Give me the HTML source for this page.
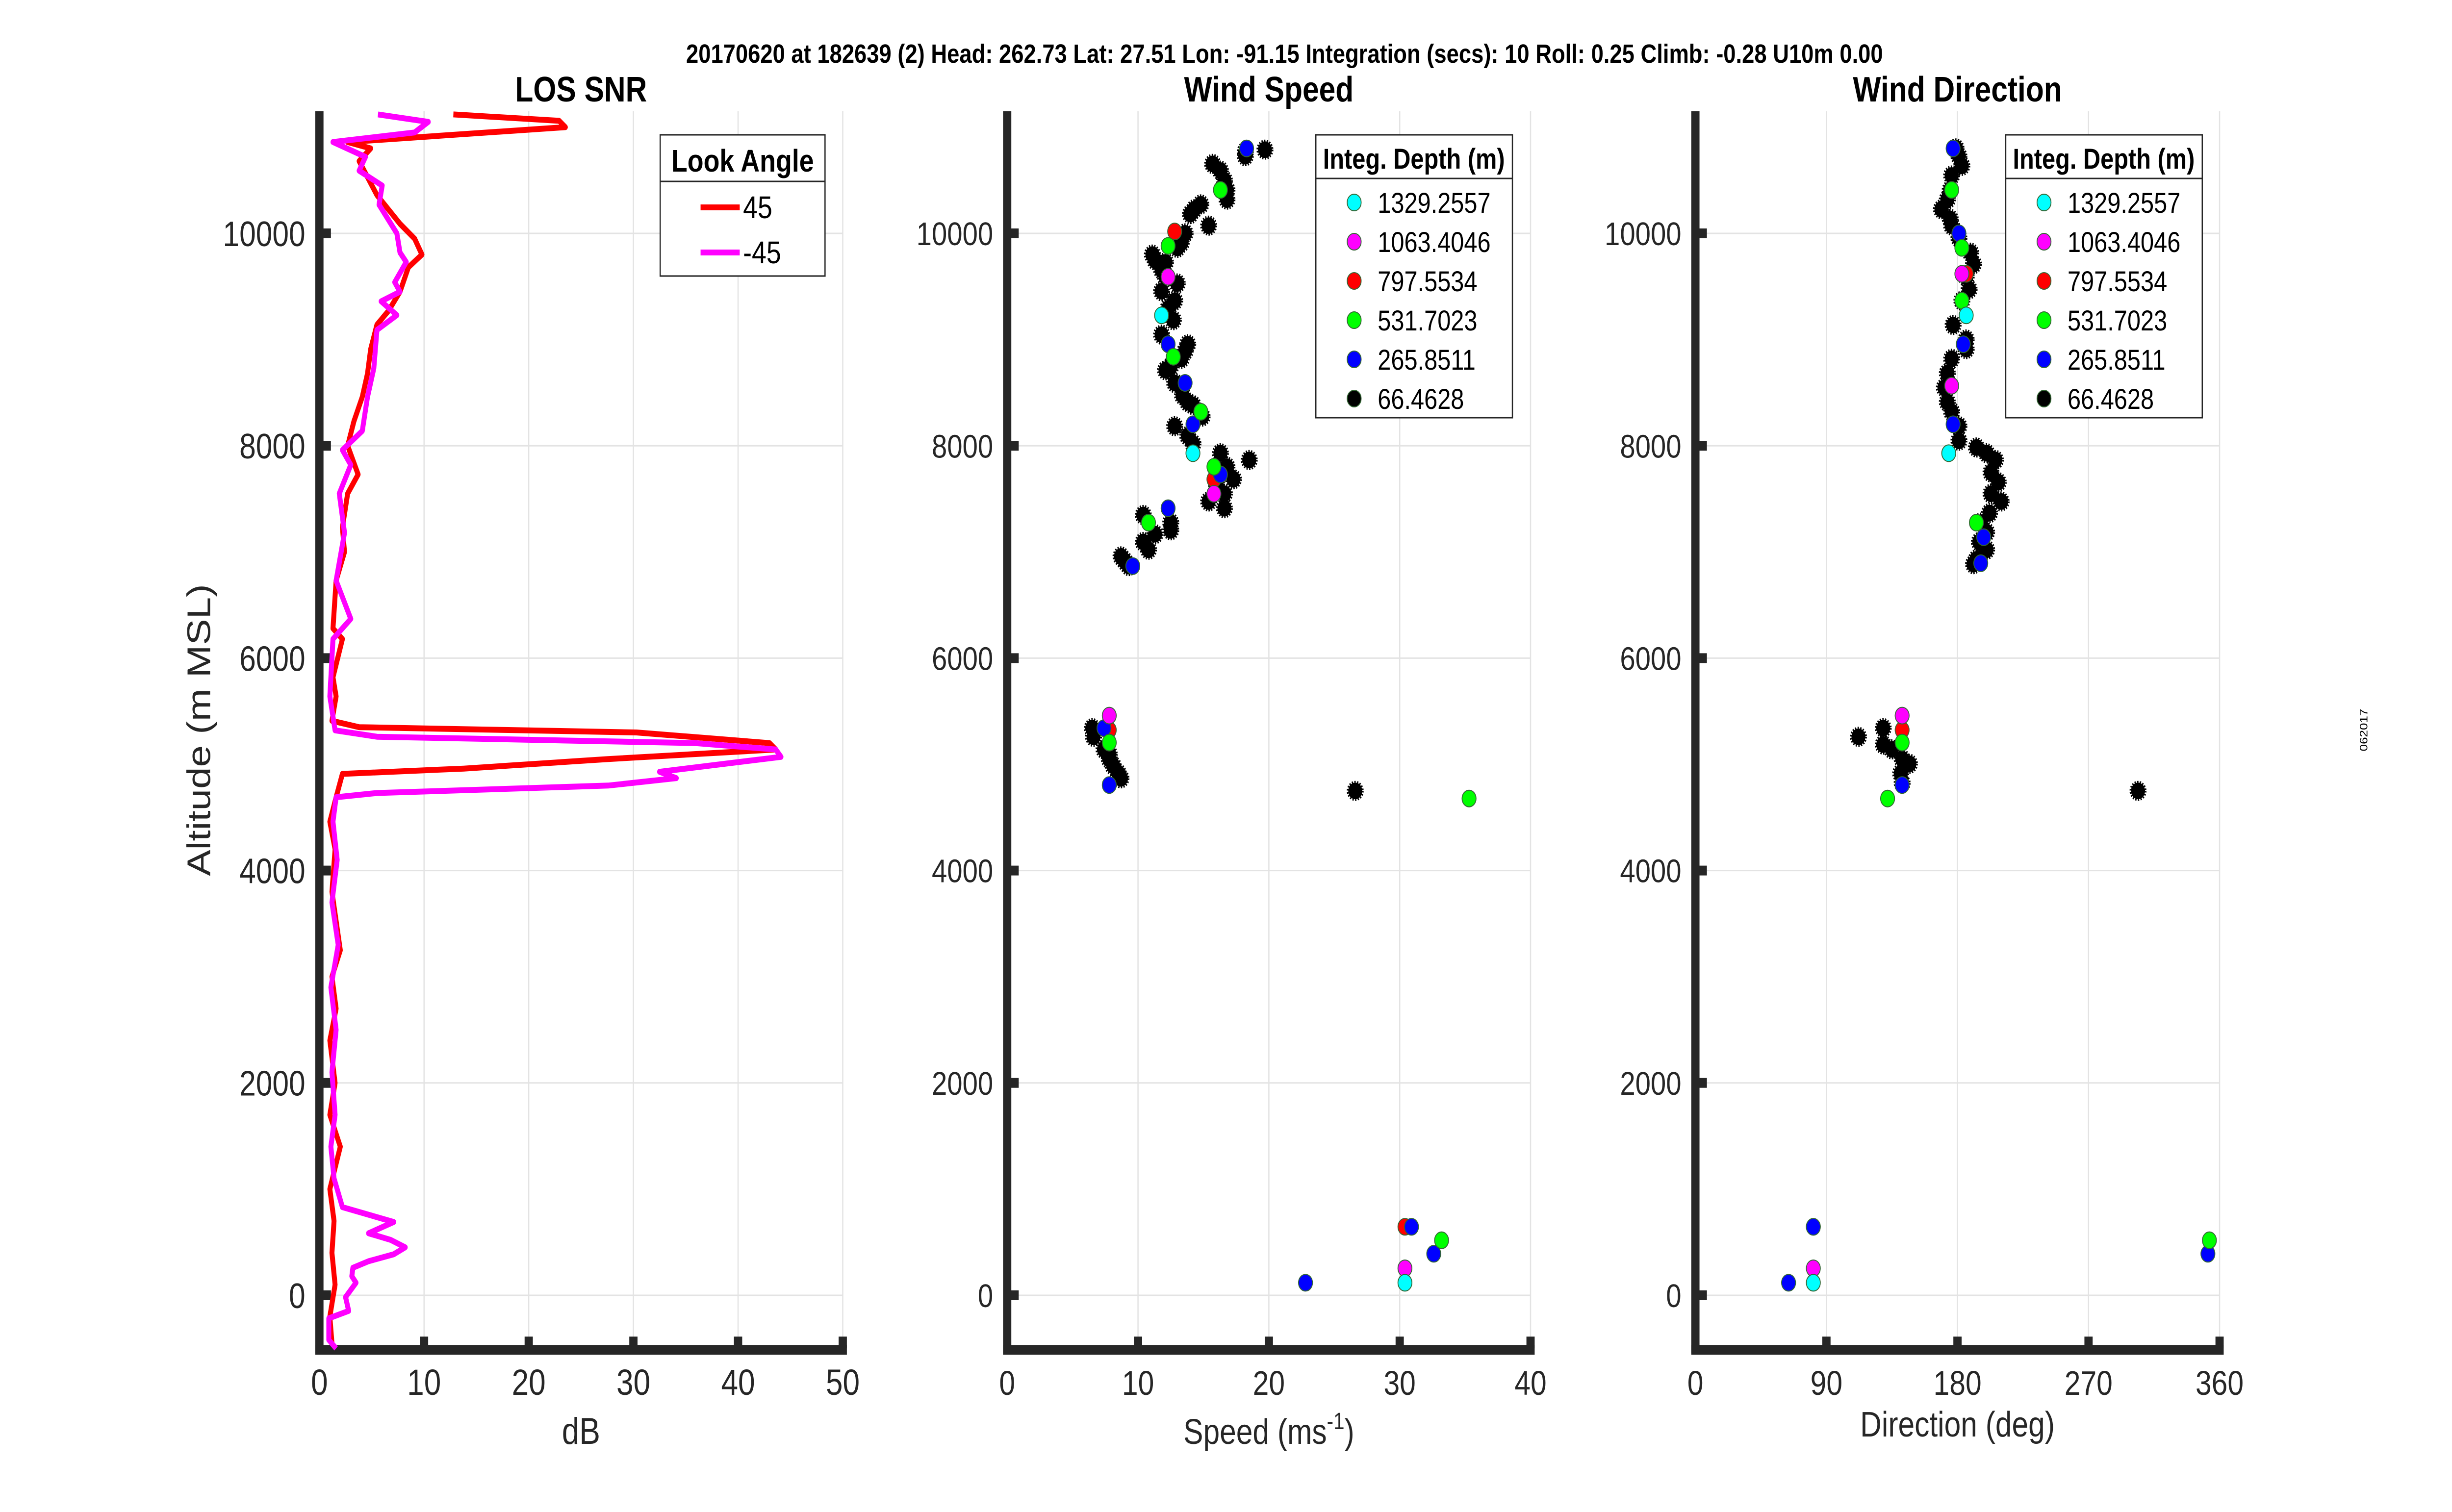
<!DOCTYPE html>
<html><head><meta charset="utf-8"><style>
html,body{margin:0;padding:0;background:#fff;overflow:hidden;width:100%;height:100%;}
svg{display:block;position:absolute;left:0;top:0;width:100vw;height:100vh;}
.n,.w{font-family:"Liberation Sans",sans-serif;}
</style></head><body>
<svg id="fig" viewBox="0 0 5950 3084" preserveAspectRatio="none" xmlns="http://www.w3.org/2000/svg">
<rect width="5950" height="3084" fill="#fff"/>
<text class="n" x="3117" y="128" font-size="54" font-weight="bold" text-anchor="middle" fill="#000">20170620 at 182639 (2)  Head: 262.73  Lat: 27.51  Lon: -91.15  Integration (secs): 10  Roll: 0.25  Climb: -0.28  U10m 0.00</text>
<text class="w" x="5745" y="1489" font-size="26" text-anchor="middle" transform="rotate(-90 5745 1489)" fill="#000">062017</text>
<g id="p1"></g>
<g id="p2"></g>
<g id="p3"></g>
</svg>
<script>
// ---------- data ----------
const yTicks=[0,2000,4000,6000,8000,10000];
const snrTicks=[0,10,20,30,40,50];
const spdTicks=[0,10,20,30,40];
const dirTicks=[0,90,180,270,360];
const snr45X=[12.8,22.9,23.5,2.7,4.9,3.8,5.5,7.7,9.1,9.8,8.5,7.7,6.6,5.5,4.9,4.6,4.1,3.3,2.7,3.7,2.7,2.2,2.4,1.6,1.3,2.2,1.3,1.6,1.2,3.8,30.3,43,43.6,27.6,13.8,2.2,1.6,1.0,1.5,1.2,2.0,1.2,1.6,1.0,1.5,1.0,2.0,1.0,1.4,1.2,1.5,1.0,1.2];
const snr45Y=[11120,11060,11000,10860,10800,10680,10360,10090,9950,9800,9680,9450,9270,9140,8910,8680,8460,8230,8000,7730,7550,7230,7000,6730,6280,6180,5820,5640,5410,5350,5300,5200,5140,5050,4960,4910,4690,4460,4200,3800,3250,3000,2700,2400,2000,1700,1400,1000,700,400,100,-200,-450];
const snrM45X=[5.6,10.4,9.1,1.3,4.4,3.8,6.0,5.7,7.4,7.7,8.3,7.2,7.7,5.9,7.4,5.5,5.2,4.6,4.1,2.2,3.0,1.9,2.4,1.6,3.0,1.3,1.0,1.5,5.5,35.9,43.6,44.1,32.5,34.1,27.6,5.5,1.6,1.3,1.7,1.2,1.8,1.1,1.6,1.2,1.5,1.1,1.4,2.2,7.1,4.7,6.8,8.2,7.1,4.7,3.2,3.1,3.5,2.5,2.8,0.9,0.9,1.6];
const snrM45Y=[11120,11050,10950,10860,10720,10590,10450,10270,10000,9820,9730,9540,9450,9360,9230,9090,8730,8460,8140,7960,7820,7550,7180,6730,6370,6180,5640,5320,5260,5200,5140,5070,4930,4870,4800,4730,4690,4460,4100,3700,3300,2900,2500,2100,1700,1400,1100,830,690,584,522,452,386,321,259,180,118,-17,-147,-217,-420,-500];
const depthLabels=["1329.2557","1063.4046","797.5534","531.7023","265.8511","66.4628"];
const depthColors=["#00ffff","#ff00ff","#ff0000","#00ff00","#0000ff","#000000"];
const spdCyan=[14.2,11.8,30.4];
const altSpdCyan=[7930,9228,118];
const spdMag=[7.8,15.8,30.4,12.3];
const altSpdMag=[5459,7548,254,9591];
const spdRed=[12.8,7.8,15.8,30.4];
const altSpdRed=[10018,5323,7684,645];
const spdGreen=[12.3,16.3,12.7,14.8,15.8,10.8,7.8,35.3,33.2];
const altSpdGreen=[9882,10409,8838,8320,7802,7276,5205,4678,518];
const spdBlue=[18.3,12.3,13.6,14.2,12.3,9.6,7.4,7.8,22.8,30.9,32.6,16.3];
const altSpdBlue=[10800,8956,8592,8202,7412,6867,5341,4805,118,645,391,7730];
const spdBlack=[19.7,18.2,18.2,15.7,16.3,16.6,16.8,16.8,15.4,14.8,14.3,14.0,13.6,13.3,13.0,12.1,11.8,11.1,11.3,12.1,13.0,11.8,12.8,12.3,12.7,11.8,13.8,13.6,13.3,12.5,12.1,12.8,13.4,13.8,14.2,14.9,12.8,13.8,14.2,16.3,18.5,16.8,17.3,16.0,16.6,16.6,15.4,10.4,11.3,12.5,12.5,10.8,10.4,8.7,9.0,9.3,6.5,6.6,7.4,7.8,8.1,8.5,8.7,7.8,26.6];
const altSpdBlack=[10788,10727,10772,10654,10591,10500,10409,10318,10073,10273,10227,10182,10000,9909,9864,9727,9655,9800,9746,9591,9528,9455,9365,9292,9183,9046,8956,8892,8819,8747,8711,8592,8474,8411,8383,8275,8184,8093,8020,7930,7866,7802,7684,7639,7548,7412,7475,7348,7167,7276,7203,7021,7094,6958,6912,6867,5341,5259,5141,5050,4987,4914,4868,5096,4750];
const dirCyan=[174,186,81];
const altDirCyan=[7930,9228,118];
const dirMag=[142,183,81,176];
const altDirMag=[5459,9619,254,8565];
const dirRed=[142,186,81];
const altDirRed=[5323,9619,645];
const dirGreen=[142,132,193,183,176,353,183];
const altDirGreen=[5205,4678,7276,9365,10409,518,9864];
const dirBlue=[177,181,184,177,196,142,198,64,81,352];
const altDirBlue=[10800,10000,8956,8202,6894,4805,7139,118,645,391];
const dirBlack=[179,181,183,176,175,173,169,175,176,181,189,191,186,188,183,177,186,186,176,173,171,173,176,181,181,193,200,206,203,208,203,210,202,196,200,195,200,193,191,112,129,129,135,142,147,141,142,304];
const altDirBlack=[10800,10727,10636,10545,10409,10318,10227,10136,10073,9955,9818,9709,9591,9473,9365,9137,9001,8910,8819,8683,8547,8411,8320,8184,8047,7984,7930,7866,7748,7657,7548,7475,7366,7276,7185,7094,7021,6930,6885,5259,5341,5186,5141,5050,5005,4914,4823,4750];

// ---------- helpers ----------
const NS="http://www.w3.org/2000/svg";
function mk(parent,tag,attrs,text){const e=document.createElementNS(NS,tag);for(const k in attrs)e.setAttribute(k,attrs[k]);if(text!==undefined)e.textContent=text;parent.appendChild(e);return e;}
const Y0=2642, YS=0.2166, YMIN=-500, YMAX=11150;
function yPix(v){return Y0-v*YS;}
const AX="#262626";

function axes(g,x0,x1,xmin,xmax,xt,xFont,yFont){
  const xp=v=>x0+(v-xmin)/(xmax-xmin)*(x1-x0);
  const top=yPix(YMAX), bot=yPix(YMIN);
  xt.forEach(t=>{const l=mk(g,'line',{x1:xp(t),x2:xp(t),y1:top,y2:bot,stroke:'#e3e3e3','stroke-width':3});
    });
  yTicks.forEach(t=>{const l=mk(g,'line',{x1:x0,x2:x1,y1:yPix(t),y2:yPix(t),stroke:'#e3e3e3','stroke-width':3});
    });
  const ya=mk(g,'line',{x1:x0,x2:x0,y1:top,y2:bot+10,stroke:AX,'stroke-width':20});
  
  const xa=mk(g,'line',{x1:x0-10,x2:x1+10,y1:bot+3,y2:bot+3,stroke:AX,'stroke-width':20});
  
  xt.forEach(t=>{
    if(t!==xmin){const k=mk(g,'line',{x1:xp(t),x2:xp(t),y1:bot-24,y2:bot,stroke:AX,'stroke-width':20});
      }
    const tx=mk(g,'text',{x:xp(t),y:2845,'font-size':xFont,'text-anchor':'middle',fill:AX,class:'w'},String(t));
    
  });
  yTicks.forEach(t=>{
    const k=mk(g,'line',{x1:x0,x2:x0+28,y1:yPix(t),y2:yPix(t),stroke:AX,'stroke-width':20});
    
    const tx=mk(g,'text',{x:x0-34,y:yPix(t)+yFont*0.36,'font-size':yFont,'text-anchor':'end',fill:AX,class:'w'},String(t));
    
  });
  return xp;
}
function title(g,x,txt,nm){const t=mk(g,'text',{x:x,y:207,'font-size':72,'font-weight':'bold','text-anchor':'middle',fill:'#000',class:'w'},txt);
  }

// ---------- panel 1 ----------
const g1=document.getElementById('p1');
const xp1=axes(g1,775,2045,0,50,snrTicks,74,72);
title(g1,1410,'LOS SNR','los-snr-title');
function line(g,xs,ys,col,nm){let d='';xs.forEach((v,i)=>{d+=(i?'L':'M')+xp1(v).toFixed(1)+' '+yPix(ys[i]).toFixed(1);});
  const p=mk(g,'path',{d:d,fill:'none',stroke:col,'stroke-width':12,'stroke-linejoin':'round'});
  }
line(g1,snr45X,snr45Y,'#ff0000','snr-line-45');
line(g1,snrM45X,snrM45Y,'#ff00ff','snr-line-minus45');
let t=mk(g1,'text',{x:1410,y:2945,'font-size':76,'text-anchor':'middle',fill:AX,class:'w'},'dB');

t=mk(g1,'text',{x:0,y:0,'font-size':80,'text-anchor':'middle',fill:AX,class:'w',transform:'translate(510 1489) rotate(-90)'},'Altitude (m MSL)');

const lg1=mk(g1,'g',{});

mk(lg1,'rect',{x:1602,y:275,width:400,height:288,fill:'#fff',stroke:'#262626','stroke-width':3});
mk(lg1,'line',{x1:1602,x2:2002,y1:370,y2:370,stroke:'#262626','stroke-width':3});
t=mk(lg1,'text',{x:1802,y:350,'font-size':64,'font-weight':'bold','text-anchor':'middle',fill:'#000',class:'w'},'Look Angle');

[['45','#ff0000',423],['-45','#ff00ff',515]].forEach(e=>{
  const ge=mk(lg1,'g',{});
  mk(ge,'line',{x1:1700,x2:1795,y1:e[2],y2:e[2],stroke:e[1],'stroke-width':12});
  mk(ge,'text',{x:1803,y:e[2]+22,'font-size':64,fill:'#000',class:'w'},e[0]);
});

// ---------- scatter panels ----------
function scatter(g,xp,xs,ys,col,nm){xs.forEach((v,i)=>{
  const blk=col==='#000000';
  const c=mk(g,'circle',{cx:xp(v).toFixed(1),cy:yPix(ys[i]).toFixed(1),r:blk?17:17,fill:col,stroke:blk?'#000':'#336633','stroke-width':blk?7:2,'stroke-dasharray':blk?'3 3':'none'});
  });}
function legend(g,x,nm){
  const lg=mk(g,'g',{});
  mk(lg,'rect',{x:x,y:275,width:477,height:577,fill:'#fff',stroke:'#262626','stroke-width':3});
  mk(lg,'line',{x1:x,x2:x+477,y1:364,y2:364,stroke:'#262626','stroke-width':3});
  const tt=mk(lg,'text',{x:x+238,y:344,'font-size':58,'font-weight':'bold','text-anchor':'middle',fill:'#000',class:'w'},'Integ. Depth (m)');
  
  depthLabels.forEach((lab,i)=>{const yy=413+i*80;
    const ge=mk(lg,'g',{});
    mk(ge,'circle',{cx:x+93,cy:yy,r:17,fill:depthColors[i],stroke:'#336633','stroke-width':2});
    mk(ge,'text',{x:x+150,y:yy+21,'font-size':58,fill:'#000',class:'w'},lab);
  });
}
const g2=document.getElementById('p2');
const xp2=axes(g2,2444,3714,0,40,spdTicks,70,67);
title(g2,3079,'Wind Speed','wind-speed-title');
scatter(g2,xp2,spdBlack,altSpdBlack,'#000000','point-66m');
scatter(g2,xp2,spdRed,altSpdRed,'#ff0000','point-797m');
scatter(g2,xp2,spdBlue,altSpdBlue,'#0000ff','point-265m');
scatter(g2,xp2,spdGreen,altSpdGreen,'#00ff00','point-531m');
scatter(g2,xp2,spdMag,altSpdMag,'#ff00ff','point-1063m');
scatter(g2,xp2,spdCyan,altSpdCyan,'#00ffff','point-1329m');
t=mk(g2,'text',{x:3079,y:2945,'font-size':72,'text-anchor':'middle',fill:AX,class:'w'});

t.innerHTML='Speed (ms<tspan dy="-30" font-size="48">-1</tspan><tspan dy="30">)</tspan>';
legend(g2,3193,'depth-legend-speed');

const g3=document.getElementById('p3');
const xp3=axes(g3,4114,5386,0,360,dirTicks,70,67);
title(g3,4750,'Wind Direction','wind-direction-title');
scatter(g3,xp3,dirBlack,altDirBlack,'#000000','point-66m');
scatter(g3,xp3,dirRed,altDirRed,'#ff0000','point-797m');
scatter(g3,xp3,dirBlue,altDirBlue,'#0000ff','point-265m');
scatter(g3,xp3,dirGreen,altDirGreen,'#00ff00','point-531m');
scatter(g3,xp3,dirMag,altDirMag,'#ff00ff','point-1063m');
scatter(g3,xp3,dirCyan,altDirCyan,'#00ffff','point-1329m');
t=mk(g3,'text',{x:4750,y:2930,'font-size':72,'text-anchor':'middle',fill:AX,class:'w'},'Direction (deg)');

legend(g3,4867,'depth-legend-direction');
</script>
</body></html>
